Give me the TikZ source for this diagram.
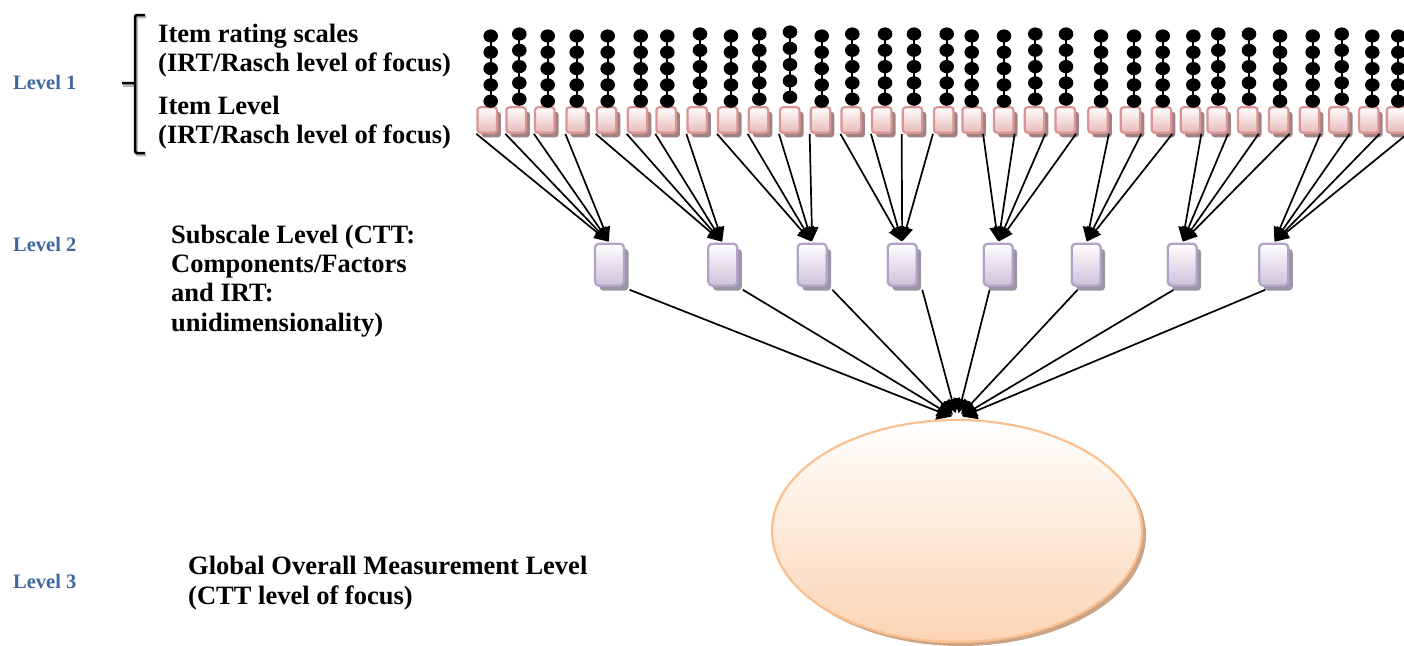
\documentclass[tikz,border=0pt]{standalone}
\usepackage{fontspec}
\setmainfont{Liberation Serif}
\usetikzlibrary{arrows.meta,shapes.geometric,shadows,calc}

\definecolor{lvlblue}{HTML}{41689D}
\definecolor{itemedge}{HTML}{D99694}
\definecolor{itemfill}{HTML}{E6B9B8}
\definecolor{itemshade}{HTML}{A38282}
\definecolor{subedge}{HTML}{B3A2C7}
\definecolor{subfill}{HTML}{CCC1DA}
\definecolor{subshade}{HTML}{9C95A6}
\definecolor{globedge}{HTML}{FAC090}
\definecolor{globfill}{HTML}{FBD4B4}
\definecolor{globshade}{HTML}{C9A486}

\begin{document}
\begin{tikzpicture}[x=1pt,y=-1pt,
  itembox/.style={draw=itemedge, line width=2.2pt, rounded corners=3pt,
    top color=white, bottom color=itemfill,
    minimum width=19.5pt, minimum height=25.5pt, inner sep=0pt,
    drop shadow={shadow xshift=4pt, shadow yshift=-4.5pt, fill=itemshade, opacity=1}},
  subbox/.style={draw=subedge, line width=2.2pt, rounded corners=4pt,
    top color=white, bottom color=subfill,
    minimum width=29pt, minimum height=42pt, inner sep=0pt,
    drop shadow={shadow xshift=4.5pt, shadow yshift=-5pt, fill=subshade, opacity=1}},
  globe/.style={ellipse, draw=globedge, line width=2.2pt,
    top color=white, bottom color=globfill,
    minimum width=370pt, minimum height=222pt, inner sep=0pt,
    drop shadow={shadow xshift=4pt, shadow yshift=-4pt, fill=globshade, opacity=1}},
  conn/.style={line width=1.7pt, -{Triangle[length=14pt,width=13pt]}},
  wideconn/.style={line width=1.7pt, -{Triangle[length=14pt,width=17pt]}},
  txt/.style={font=\fontsize{26.5}{30}\selectfont\bfseries, anchor=base west, inner sep=0pt},
  lvl/.style={font=\fontsize{20.5}{24}\selectfont\bfseries, text=lvlblue, anchor=base west, inner sep=0pt}
]
% canvas
\fill[white] (0,0) rectangle (1404,645);
\useasboundingbox (0,0) rectangle (1404,645);

% level labels
\node[lvl] (l1) at (13,89.5) {Level 1};
\node[lvl] (l2) at (13,251) {Level 2};
\node[lvl] (l3) at (13,588) {Level 3};

% bracket with shadow
\draw[gray!55, line width=2.5pt, rounded corners=1.5pt]
  (146,17) -- (136.5,17) -- (136.5,155) -- (146,155) (136.5,85.5) -- (123,85.5);
\draw[black, line width=2.5pt, rounded corners=1.5pt]
  (145,15) -- (135,15) -- (135,153) -- (145,153) (135,83) -- (122,83);

% descriptions
\node[txt] (t1a) at (158,42) {Item rating scales};
\node[txt] (t1b) at (158,71.5) {(IRT/Rasch level of focus)};
\node[txt] (t1c) at (158,114.5) {Item Level};
\node[txt] (t1d) at (158,143.5) {(IRT/Rasch level of focus)};
\node[txt] (t2a) at (171,243) {Subscale Level (CTT:};
\node[txt] (t2b) at (171,272.5) {Components/Factors};
\node[txt] (t2c) at (171,301.5) {and IRT:};
\node[txt] (t2d) at (171,331) {unidimensionality)};
\node[txt] (t3a) at (188,574) {Global Overall Measurement Level};
\node[txt] (t3b) at (188,604) {(CTT level of focus)};

% item boxes
\foreach \x [count=\i] in {476.7,505.7,534.3,565.7,596,627,655.7,686.7,717.3,748,
  779.3,810,840.7,871.3,902,933.3,961.7,993.3,1024,1054.7,1087.5,1120,1151,1180,
  1206.7,1237.3,1268.3,1299,1328.3,1358.3,1386}
  \node[itembox] (b\i) at (\x+10.5,120) {};

% rating scale points above each item
\foreach \x/\dy in {490.7/0,519.3/-2,547.7/0,576.7/0,607.7/0,640.7/0,667.3/0,700/-2,
  731/0,759.3/-2,790/-4,821.7/0,852.3/-2,885/-2,914/-2,946.7/-2,971.7/0,1004/0,
  1035.3/-2,1066/-2,1101/0,1134/0,1162.7/0,1193.3/0,1218.3/-2,1249/-2,1280/0,
  1312.7/0,1341.7/-2,1372.3/0,1398.3/0}
{
  \draw[line width=2pt] (\x,36+\dy) -- (\x,101.2+\dy);
  \foreach \k in {0,...,4}
    \fill (\x,36+\dy+16.3*\k) ellipse [x radius=7.3pt, y radius=6.6pt];
}

% subscale boxes
\foreach \x [count=\i] in {594,707.3,796.7,886.7,982.7,1070.7,1166.7,1258.3}
  \node[subbox] (s\i) at (\x+15.5,264.7) {};

% global measure
\node[globe] (g) at (957,531) {};

% items to subscales
\foreach \i/\s/\a in {1/1/south west,2/1/south west,3/1/south west,4/1/south west,
  5/2/south west,6/2/south west,7/2/south west,8/2/south west,
  9/3/south west,10/3/south west,11/3/south west,12/3/south west,
  13/4/south west,14/4/south west,15/4/south west,16/4/south west,
  17/5/south east,18/5/south east,19/5/south east,20/5/south east,
  21/6/south east,22/6/south east,23/6/south east,
  24/7/south east,25/7/south east,26/7/south east,27/7/south east,
  28/8/south east,29/8/south east,30/8/south east,31/8/south east}
  \draw[conn, shorten >=1.5pt] (b\i.\a) -- (s\s.north);

% subscales to global measure
\foreach \s in {1,...,4}
  \draw[wideconn, shorten >=6pt] ($(s\s.south east)+(4.5,3)$) -- (g.north);
\foreach \s in {5,...,8}
  \draw[wideconn, shorten >=6pt] ($(s\s.south west)+(7,3)$) -- (g.north);
\end{tikzpicture}
\end{document}
